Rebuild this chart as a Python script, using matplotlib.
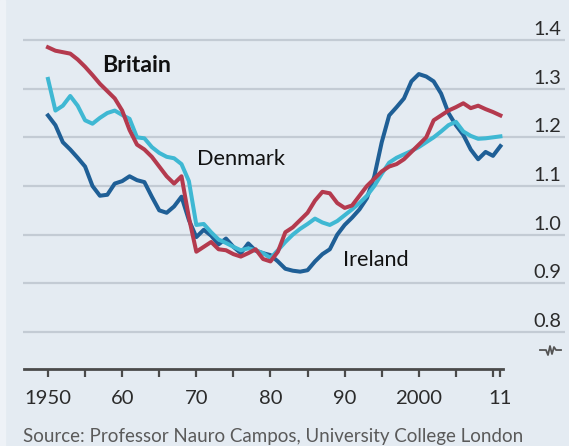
import matplotlib
import numpy as np
from matplotlib import pyplot as plt
from matplotlib import transforms

matplotlib.use("Agg")

years = list(range(1950, 2012))

britain = [
    1.385, 1.378, 1.375, 1.372, 1.360, 1.345, 1.328, 1.310, 1.295, 1.280,
    1.255, 1.215, 1.185, 1.175, 1.160, 1.140, 1.120, 1.105, 1.120, 1.035,
    0.965, 0.975, 0.985, 0.970, 0.968, 0.960, 0.955, 0.962, 0.970, 0.950,
    0.945, 0.965, 1.005, 1.015, 1.030, 1.045, 1.070, 1.088, 1.085, 1.065,
    1.055, 1.060, 1.080, 1.100, 1.115, 1.130, 1.140, 1.145, 1.155, 1.170,
    1.185, 1.200, 1.235, 1.245, 1.255, 1.262, 1.270, 1.260, 1.265, 1.258,
    1.252, 1.245,
]

denmark = [
    1.320, 1.255, 1.265, 1.285, 1.265, 1.235, 1.228, 1.240, 1.250, 1.255,
    1.246, 1.238, 1.200, 1.198, 1.180, 1.168, 1.160, 1.157, 1.145, 1.110,
    1.020, 1.022, 1.005, 0.990, 0.983, 0.975, 0.968, 0.972, 0.968, 0.962,
    0.952, 0.968, 0.985, 1.000, 1.012, 1.022, 1.033, 1.025, 1.020, 1.028,
    1.040, 1.052, 1.065, 1.080, 1.100, 1.125, 1.148, 1.158, 1.165, 1.172,
    1.180, 1.190, 1.200, 1.212, 1.225, 1.232, 1.212, 1.203, 1.197, 1.198,
    1.200, 1.202,
]

ireland = [
    1.245, 1.225, 1.190, 1.175, 1.158, 1.140, 1.100, 1.080, 1.082, 1.105,
    1.110, 1.120, 1.112, 1.108, 1.078, 1.050, 1.045, 1.058, 1.078, 1.030,
    0.995, 1.010, 0.998, 0.980, 0.992, 0.975, 0.962, 0.982, 0.967, 0.962,
    0.958, 0.945, 0.930, 0.926, 0.924, 0.927, 0.945, 0.960, 0.970, 1.000,
    1.020, 1.035, 1.052, 1.075, 1.120, 1.190, 1.245, 1.262, 1.280, 1.315,
    1.330, 1.325, 1.315, 1.290, 1.250, 1.225, 1.205, 1.175, 1.155, 1.170,
    1.162, 1.182,
]

y_ticks = [0.8, 0.9, 1.0, 1.1, 1.2, 1.3, 1.4]
x_major = [1950, 1960, 1970, 1980, 1990, 2000, 2011]
x_major_labels = ["1950", "60", "70", "80", "90", "2000", "11"]
x_minor = [1955, 1965, 1975, 1985, 1995, 2005, 2010]

BG = "#e4ebf2"
matplotlib.rcParams["font.family"] = ["Lato", "DejaVu Sans"]

W, H = 569, 446
fig = plt.figure(figsize=(W / 100, H / 100), dpi=100, facecolor=BG)
fig.patches.append(
    plt.Rectangle((0, 0), 5 / W, 1, transform=fig.transFigure,
                  color="#eef2f7", zorder=0)
)

ax = fig.add_axes([23 / W, (H - 380) / H, 542 / W, 360 / H])
ax.set_facecolor(BG)
ax.set_xlim(1946.63, 2019.71)
ax.set_ylim(0.7014, 1.4411)

for s in ["top", "right", "left"]:
    ax.spines[s].set_visible(False)
ax.spines["bottom"].set_position(("data", 0.724))
ax.spines["bottom"].set_bounds(1946.7, 2011.3)
ax.spines["bottom"].set_color("#4a4a4a")
ax.spines["bottom"].set_linewidth(2.0)

ax.set_yticks([])
for v in y_ticks:
    ax.axhline(v, color="#c3cbd4", linewidth=1.6, zorder=1)

trans = transforms.blended_transform_factory(ax.transAxes, ax.transData)
offset = transforms.offset_copy(trans, fig=fig, x=0, y=3.5, units="points")
ylabels = []
for v in y_ticks:
    t = ax.text(0.9926, v, f"{v:.1f}", transform=offset, ha="right",
                va="baseline", fontsize=16, color="#2b2b2b")
    ylabels.append(t)

ax.set_xticks(x_major)
ax.set_xticklabels(x_major_labels)
ax.set_xticks(x_minor, minor=True)
ax.tick_params(axis="x", which="both", direction="out", length=6,
               width=1.6, color="#4a4a4a", pad=9, labelsize=16,
               labelcolor="#2b2b2b")

lw = 2.9
ax.plot(years, ireland, color="#1f5f96", linewidth=lw, zorder=3,
        solid_joinstyle="round")
ax.plot(years, denmark, color="#3fb8d3", linewidth=lw, zorder=4,
        solid_joinstyle="round")
ax.plot(years, britain, color="#b43a4e", linewidth=lw, zorder=5,
        solid_joinstyle="round")

t_brit = ax.text(1957.3, 1.348, "Britain", fontsize=17, fontweight="bold",
                 va="center", ha="left", color="#111111")
t_den = ax.text(1970.1, 1.1565, "Denmark", fontsize=17, va="center",
                ha="left", color="#111111")
t_ire = ax.text(1989.8, 0.947, "Ireland", fontsize=17, va="center",
                ha="left", color="#111111")

# axis break mark
bx = np.array([540, 546, 548, 550, 552, 554, 556, 561])
by = np.array([0, 0, -5, 4, -4, 3, 0, 0])
ax.plot((bx - 23) / 542, 0.763 + by / 486.7, color="#555555", linewidth=1.3,
        transform=trans, clip_on=False)

t_src = fig.text(23 / W, 4 / H,
                 "Source: Professor Nauro Campos, University College London",
                 fontsize=15, color="#5a5a5a", ha="left", va="baseline")

# size texts so their widths match the reference
renderer = fig.canvas.get_renderer()


def fit(text, width_px):
    w = text.get_window_extent(renderer).width
    text.set_fontsize(text.get_fontsize() * width_px / w)


fit(t_src, 502)
fit(t_brit, 69)
fit(t_den, 88)
fit(t_ire, 65)
for t in ylabels:
    fit(t, 28)
ticklab = ax.get_xticklabels()[0]
w1950 = ticklab.get_window_extent(renderer).width
ax.tick_params(axis="x", labelsize=16 * 47 / w1950)

fig.savefig("out.png", dpi=100, facecolor=BG)
